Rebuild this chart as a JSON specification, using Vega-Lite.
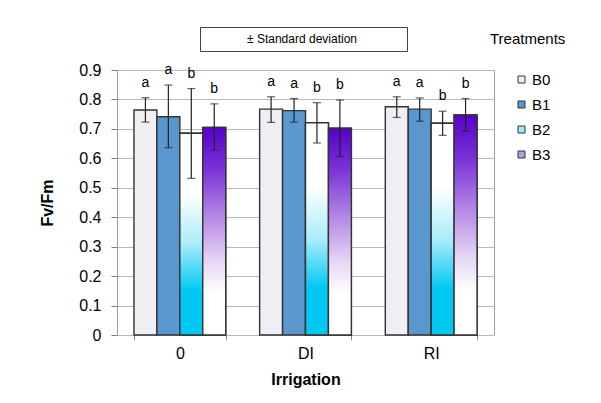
{
  "$schema": "https://vega.github.io/schema/vega-lite/v6.json",
  "autosize": {"type": "none"},
  "width": 377,
  "height": 265,
  "padding": {"left": 117, "top": 70, "right": 107, "bottom": 68},
  "background": "#ffffff",
  "config": {
    "font": "Liberation Sans",
    "view": {"stroke": "#a0a0a0", "strokeWidth": 1},
    "axis": {"labelColor": "#000000", "titleColor": "#000000"},
    "axisY": {
      "tickCount": 9,
      "labelOverlap": false,
      "format": ".1~f",
      "labelFontSize": 16,
      "labelPadding": 10,
      "tickSize": 6,
      "tickColor": "#808080",
      "domain": false,
      "gridColor": "#b8b8b8",
      "titleFontSize": 16,
      "titleFontWeight": "bold",
      "titlePadding": 23
    }
  },
  "data": {
    "values": [
      {"irrigation": "0", "treatment": "B0", "fvfm": 0.764, "lo": 0.723, "hi": 0.806, "letter": "a"},
      {"irrigation": "0", "treatment": "B1", "fvfm": 0.741, "lo": 0.636, "hi": 0.849, "letter": "a"},
      {"irrigation": "0", "treatment": "B2", "fvfm": 0.685, "lo": 0.532, "hi": 0.837, "letter": "b"},
      {"irrigation": "0", "treatment": "B3", "fvfm": 0.705, "lo": 0.628, "hi": 0.785, "letter": "b"},
      {"irrigation": "DI", "treatment": "B0", "fvfm": 0.767, "lo": 0.722, "hi": 0.809, "letter": "a"},
      {"irrigation": "DI", "treatment": "B1", "fvfm": 0.762, "lo": 0.723, "hi": 0.803, "letter": "a"},
      {"irrigation": "DI", "treatment": "B2", "fvfm": 0.721, "lo": 0.652, "hi": 0.789, "letter": "b"},
      {"irrigation": "DI", "treatment": "B3", "fvfm": 0.702, "lo": 0.606, "hi": 0.798, "letter": "b"},
      {"irrigation": "RI", "treatment": "B0", "fvfm": 0.775, "lo": 0.739, "hi": 0.809, "letter": "a"},
      {"irrigation": "RI", "treatment": "B1", "fvfm": 0.767, "lo": 0.726, "hi": 0.805, "letter": "a"},
      {"irrigation": "RI", "treatment": "B2", "fvfm": 0.719, "lo": 0.678, "hi": 0.760, "letter": "b"},
      {"irrigation": "RI", "treatment": "B3", "fvfm": 0.747, "lo": 0.692, "hi": 0.803, "letter": "b"}
    ]
  },
  "encoding": {
    "x": {
      "field": "irrigation",
      "type": "nominal",
      "sort": ["0", "DI", "RI"],
      "scale": {"paddingInner": 0.27, "paddingOuter": 0.135},
      "axis": {
        "title": "Irrigation",
        "titleFontSize": 16,
        "titleFontWeight": "bold",
        "titlePadding": 10,
        "labelAngle": 0,
        "labelFontSize": 16,
        "labelPadding": 5,
        "tickBand": "extent",
        "tickSize": 5,
        "tickColor": "#909090",
        "domain": false,
        "grid": false
      }
    },
    "xOffset": {
      "field": "treatment",
      "type": "nominal",
      "scale": {"domain": ["B0", "B1", "B2", "B3"], "paddingInner": 0, "paddingOuter": 0}
    }
  },
  "layer": [
    {
      "mark": {"type": "bar", "stroke": "#333333", "strokeWidth": 1.4},
      "encoding": {
        "y": {
          "field": "fvfm",
          "type": "quantitative",
          "title": "Fv/Fm",
          "scale": {"domain": [0, 0.9], "nice": false}
        },
        "color": {
          "field": "treatment",
          "type": "nominal",
          "scale": {"domain": ["B0", "B1", "B2", "B3"], "range": ["#efeff3", "#5b97cf", "#a4e8f9", "#b89ce2"]},
          "legend": {
            "title": "Treatments",
            "titleFontSize": 15,
            "titleFontWeight": "normal",
            "titleColor": "#000000",
            "titlePadding": 25,
            "orient": "none",
            "legendX": 373,
            "legendY": -38,
            "padding": 0,
            "symbolType": "square",
            "symbolSize": 49,
            "symbolStrokeColor": "#333333",
            "symbolStrokeWidth": 1,
            "symbolOffset": 24,
            "labelFontSize": 15,
            "labelColor": "#000000",
            "labelOffset": 3,
            "rowPadding": 9
          }
        }
      }
    },
    {
      "transform": [{"filter": "datum.treatment === 'B2'"}],
      "mark": {
        "type": "bar",
        "stroke": "#333333",
        "strokeWidth": 1.4,
        "fill": {
          "gradient": "linear", "x1": 0, "y1": 0, "x2": 0, "y2": 1,
          "stops": [
            {"offset": 0, "color": "#ffffff"},
            {"offset": 0.3, "color": "#ffffff"},
            {"offset": 0.55, "color": "#a8ecfb"},
            {"offset": 0.78, "color": "#00c8f2"},
            {"offset": 1, "color": "#00c8f2"}
          ]
        }
      },
      "encoding": {"y": {"field": "fvfm", "type": "quantitative", "title": "Fv/Fm"}}
    },
    {
      "transform": [{"filter": "datum.treatment === 'B3'"}],
      "mark": {
        "type": "bar",
        "stroke": "#333333",
        "strokeWidth": 1.4,
        "fill": {
          "gradient": "linear", "x1": 0, "y1": 0, "x2": 0, "y2": 1,
          "stops": [
            {"offset": 0, "color": "#5800cc"},
            {"offset": 0.2, "color": "#7a34d6"},
            {"offset": 0.45, "color": "#b98fe6"},
            {"offset": 0.65, "color": "#e6d8f6"},
            {"offset": 0.8, "color": "#ffffff"},
            {"offset": 1, "color": "#ffffff"}
          ]
        }
      },
      "encoding": {"y": {"field": "fvfm", "type": "quantitative", "title": "Fv/Fm"}}
    },
    {
      "mark": {"type": "rule", "color": "#222222", "strokeWidth": 1.2},
      "encoding": {
        "y": {"field": "lo", "type": "quantitative", "title": "Fv/Fm"},
        "y2": {"field": "hi"},
        "strokeDash": {
          "datum": "± Standard deviation",
          "scale": {"range": [[1, 0]]},
          "legend": {
            "title": null,
            "orient": "none",
            "legendX": 83,
            "legendY": -43,
            "padding": 6,
            "strokeColor": "#444444",
            "fillColor": "#ffffff",
            "symbolType": "stroke",
            "symbolSize": 16,
            "symbolOpacity": 0,
            "symbolOffset": 187,
            "labelAlign": "right",
            "labelOffset": -48,
            "labelFontSize": 12,
            "labelColor": "#000000"
          }
        }
      }
    },
    {
      "mark": {"type": "tick", "color": "#222222", "thickness": 1.2, "size": 8},
      "encoding": {"y": {"field": "hi", "type": "quantitative", "title": "Fv/Fm"}}
    },
    {
      "mark": {"type": "tick", "color": "#222222", "thickness": 1.2, "size": 8},
      "encoding": {"y": {"field": "lo", "type": "quantitative", "title": "Fv/Fm"}}
    },
    {
      "mark": {"type": "text", "fontSize": 14, "color": "#000000", "baseline": "middle", "dy": -15},
      "encoding": {
        "y": {"field": "hi", "type": "quantitative", "title": "Fv/Fm"},
        "text": {"field": "letter"}
      }
    }
  ]
}
